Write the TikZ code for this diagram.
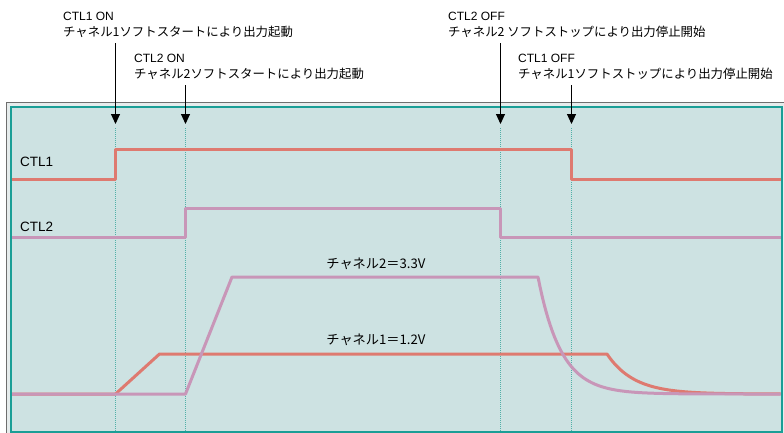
\documentclass[tikz,border=0pt]{standalone}
\usepackage{fontspec}
\setmainfont{Liberation Sans}
\newfontfamily\jp{Noto Sans CJK JP}
\usetikzlibrary{arrows.meta}
\definecolor{panel}{RGB}{205,226,226}
\definecolor{tealb}{RGB}{26,158,150}
\definecolor{sigred}{RGB}{222,122,112}
\definecolor{sigpink}{RGB}{200,150,184}
\definecolor{dotc}{RGB}{80,176,168}
\definecolor{framegray}{RGB}{110,110,110}
\begin{document}
\begin{tikzpicture}[x=1pt,y=-1pt,
  toplat/.style={anchor=west,inner sep=0pt,font=\fontsize{12}{14}\selectfont},
  topjp/.style={anchor=west,inner sep=0pt,font=\jp\fontsize{12.4}{14}\selectfont},
  panlat/.style={anchor=west,inner sep=0pt,font=\fontsize{13.5}{15}\selectfont},
  panjp/.style={inner sep=0pt,font=\jp\fontsize{13.2}{15}\selectfont},
  arr/.style={line width=1pt,-{Triangle[length=10pt,width=9pt]}},
  guide/.style={dotc,line width=1.2pt,dash pattern=on 1pt off 1pt},
  sig/.style={line width=3pt,line join=round}]
\useasboundingbox (0,0) rectangle (784,432);
% frame and panel
\draw[framegray,line width=1pt,fill={rgb,255:red,230;green,236;blue,236}] (6.5,102.5) rectangle (800,450);
\draw[tealb,line width=2pt,fill=panel] (11,106.5) rectangle (781.5,431.5);
% guide lines
\coordinate (g1t) at (115.5,128); \coordinate (g1b) at (115.5,431);
\coordinate (g2t) at (185.5,128); \coordinate (g2b) at (185.5,431);
\coordinate (g3t) at (500.5,128); \coordinate (g3b) at (500.5,431);
\coordinate (g4t) at (571.5,128); \coordinate (g4b) at (571.5,431);
\draw[guide] (g1t) -- (g1b);
\draw[guide] (g2t) -- (g2b);
\draw[guide] (g3t) -- (g3b);
\draw[guide] (g4t) -- (g4b);
% top labels
\node[toplat] (l1a) at (63,16) {CTL1 ON};
\node[topjp]  (l1b) at (63,32) {チャネル1ソフトスタートにより出力起動};
\node[toplat] (l2a) at (134,58) {CTL2 ON};
\node[topjp]  (l2b) at (134,74) {チャネル2ソフトスタートにより出力起動};
\node[toplat] (l3a) at (448,16) {CTL2 OFF};
\node[topjp]  (l3b) at (448,32) {チャネル2 ソフトストップにより出力停止開始};
\node[toplat] (l4a) at (518,58) {CTL1 OFF};
\node[topjp]  (l4b) at (518,74) {チャネル1ソフトストップにより出力停止開始};
% arrows
\coordinate (a1s) at (115.5,43); \coordinate (a1e) at (115.5,124);
\coordinate (a2s) at (185.5,85); \coordinate (a2e) at (185.5,124);
\coordinate (a3s) at (500.5,43); \coordinate (a3e) at (500.5,124);
\coordinate (a4s) at (571.5,85); \coordinate (a4e) at (571.5,124);
\draw[arr] (a1s) -- (a1e);
\draw[arr] (a2s) -- (a2e);
\draw[arr] (a3s) -- (a3e);
\draw[arr] (a4s) -- (a4e);
% signal labels
\node[panlat] (c1) at (20,162) {CTL1};
\node[panlat] (c2) at (20,227) {CTL2};
\node[panjp] (v2) at (376,264) {チャネル2＝3.3V};
\node[panjp] (v1) at (376,340) {チャネル1＝1.2V};
% CTL signals
\draw[sig,sigred] (12,179) -- (115.5,179) -- (115.5,149) -- (571.5,149) -- (571.5,179) -- (780.5,179);
\draw[sig,sigpink] (12,237.5) -- (185.5,237.5) -- (185.5,208.5) -- (500.5,208.5) -- (500.5,237.5) -- (780.5,237.5);
% channel outputs
\draw[sig,sigred] (12,394) -- (115.5,394) -- (159.5,354) -- (607,354)
  -- plot[domain=0:173.5,samples=90] ({607+\x},{394-40*exp(-\x/27)});
\draw[sig,sigpink] (12,394) -- (185.5,394) -- (232,277) -- (538,277)
  -- plot[domain=0:242.5,samples=120] ({538+\x},{394-117*exp(-\x/23)});
\end{tikzpicture}
\end{document}
